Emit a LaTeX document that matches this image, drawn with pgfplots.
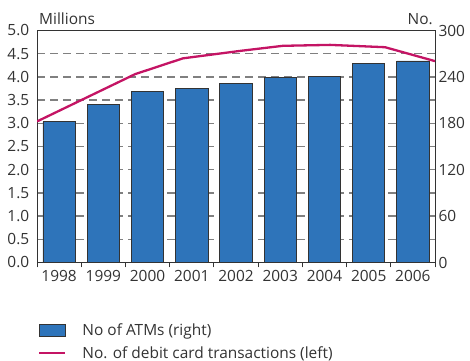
\documentclass[border=0pt]{standalone}
\usepackage{fontspec}
\setmainfont{Open Sans}
\usepackage{pgfplots}
\pgfplotsset{compat=1.18}
\definecolor{barblue}{RGB}{46,116,186}
\definecolor{linemag}{RGB}{196,20,100}
\definecolor{txt}{RGB}{51,51,51}
\definecolor{gridgray}{RGB}{128,128,128}

\pgfplotsset{
  common/.style={
    at={(37bp,98.5bp)}, anchor=south west,
    scale only axis, width=398bp, height=232bp,
    xmin=-0.5, xmax=8.5,
    /pgf/number format/assume math mode=true,
    axis line style={draw=txt, line width=0.9bp},
  },
  barimg/.style={legend image code/.code={\draw[##1] (0bp,-6bp) rectangle (26bp,6bp);}},
  lineimg/.style={legend image code/.code={\draw[##1] (0bp,0bp) -- (26bp,0bp);}},
}

\begin{document}
\begin{tikzpicture}[font=\fontsize{15.5}{18}\selectfont, text=txt]
\useasboundingbox (0bp,0bp) rectangle (470bp,361bp);

% left axis: frame, grid, year labels
\begin{axis}[common,
    clip=false,
    ymin=0, ymax=5,
    ytick={0,0.5,1,1.5,2,2.5,3,3.5,4,4.5,5},
    yticklabel style={/pgf/number format/.cd, fixed, fixed zerofill, precision=1},
    ytick pos=left,
    ytick style={draw=none},
    xtick={0,1,2,3,4,5,6,7,8},
    xticklabels={1998,1999,2000,2001,2002,2003,2004,2005,2006},
    xtick style={draw=none},
    minor xtick={-0.5,0.5,1.5,2.5,3.5,4.5,5.5,6.5,7.5,8.5},
    minor x tick style={draw=txt, line width=0.9bp},
    minor tick length=5bp,
    tick align=outside,
    xtick pos=bottom,
    ymajorgrids,
    major grid style={gridgray, dash pattern=on 8bp off 5bp, line width=1.3bp},
  ]
  \node[anchor=base west, inner sep=0pt] at (axis description cs:0,1) [xshift=2bp, yshift=6bp] {Millions};
  \node[anchor=base east, inner sep=0pt] at (axis description cs:1,1) [xshift=-2bp, yshift=6bp] {No.};
\end{axis}

% right axis: number of ATMs
\begin{axis}[common,
    ymin=0, ymax=300,
    ytick={0,60,120,180,240,300},
    axis y line*=right,
    ytick style={draw=none},
    hide x axis,
    ybar, bar width=0.73,
  ]
  \addplot[fill=barblue, draw=txt, line width=0.8bp] coordinates {
    (0,182) (1,204) (2,221) (3,225) (4,232) (5,239.5) (6,240) (7,257.6) (8,260.6)
  };
\end{axis}

% debit card transactions
\begin{axis}[common,
    ymin=0, ymax=5,
    hide axis,
    legend cell align=left,
    legend style={at={(axis description cs:-0.005,-0.245)}, anchor=north west,
      draw=none, fill=none, row sep=5.5bp,
      /tikz/every odd column/.append style={column sep=14bp}},
  ]
  \addlegendimage{barimg, fill=barblue, draw=txt, line width=0.8bp}
  \addlegendentry{No of ATMs (right)}
  \addplot[lineimg, linemag, line width=2.3bp] coordinates {
    (-0.5,3.04) (1.72,4.06) (2.80,4.40) (4.09,4.56) (5.06,4.67) (6.13,4.69) (7.37,4.64) (8.5,4.34)
  };
  \addlegendentry{No. of debit card transactions (left)}
\end{axis}
\end{tikzpicture}
\end{document}
